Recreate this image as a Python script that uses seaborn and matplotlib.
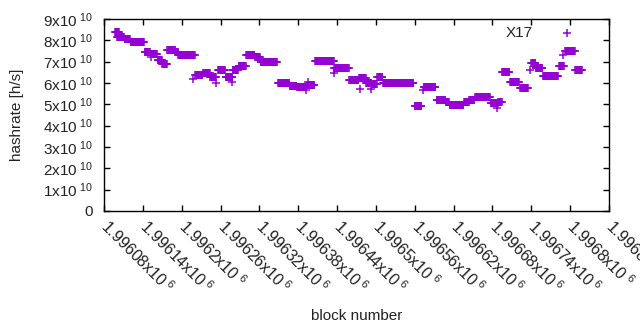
import numpy as np
import pandas as pd
import matplotlib
matplotlib.use("Agg")
import matplotlib.pyplot as plt
import seaborn as sns

# ---- data (runs of consecutive blocks with constant hashrate) ----
run_first_block = [1996097, 1996100, 1996112, 1996121, 1996143, 1996152, 1996163, 1996170, 1996178, 1996191,
                   1996195, 1996221, 1996233, 1996244, 1996256, 1996268, 1996279, 1996288, 1996300, 1996313,
                   1996322, 1996349, 1996367, 1996378, 1996394, 1996406, 1996436, 1996459, 1996474, 1996485,
                   1996494, 1996502, 1996511, 1996560, 1996574, 1996594, 1996608, 1996614, 1996636, 1996644,
                   1996653, 1996677, 1996689, 1996695, 1996707, 1996723, 1996740, 1996747, 1996758, 1996783,
                   1996792, 1996808]
run_last_block = [1996103, 1996111, 1996120, 1996142, 1996151, 1996162, 1996169, 1996177, 1996190, 1996194,
                  1996220, 1996232, 1996243, 1996253, 1996267, 1996278, 1996287, 1996299, 1996312, 1996321,
                  1996347, 1996366, 1996377, 1996392, 1996405, 1996435, 1996458, 1996473, 1996484, 1996493,
                  1996501, 1996510, 1996558, 1996570, 1996592, 1996607, 1996613, 1996635, 1996643, 1996652,
                  1996676, 1996688, 1996694, 1996706, 1996721, 1996735, 1996746, 1996757, 1996781, 1996790,
                  1996807, 1996818]
run_hashrate_e10 = [8.39, 8.15, 8.05, 7.92, 7.45, 7.38, 7.08, 6.89, 7.57, 7.45,
                    7.31, 6.36, 6.48, 6.30, 6.60, 6.30, 6.60, 6.80, 7.29, 7.20,
                    6.97, 6.00, 5.88, 5.79, 5.90, 7.01, 6.68, 6.13, 6.22, 6.00,
                    5.93, 6.28, 5.98, 4.92, 5.79, 5.18, 5.10, 4.95, 5.10, 5.20,
                    5.34, 5.06, 5.10, 6.52, 6.07, 5.77, 6.94, 6.70, 6.33, 6.82,
                    7.52, 6.59]

# isolated points
single_block = [1996153, 1996217, 1996253, 1996278, 1996392, 1996395, 1996435,
                1996475, 1996492, 1996572, 1996687, 1996738, 1996789]
single_hashrate_e10 = [7.20, 6.19, 6.00, 6.05, 5.67, 6.07, 6.47,
                       5.71, 5.74, 5.65, 4.83, 6.61, 7.31]

x_ticks = [1996080, 1996140, 1996200, 1996260, 1996320, 1996380, 1996440,
           1996500, 1996560, 1996620, 1996680, 1996740, 1996800, 1996860]
x_tick_mantissa = ["1.99608", "1.99614", "1.9962", "1.99626", "1.99632", "1.99638", "1.99644",
                   "1.9965", "1.99656", "1.99662", "1.99668", "1.99674", "1.9968", "1.99686"]
y_ticks_e10 = [0, 1, 2, 3, 4, 5, 6, 7, 8, 9]
series_name = "X17"

# ---- build table ----
blocks, rates = [], []
for a, b, v in zip(run_first_block, run_last_block, run_hashrate_e10):
    for blk in range(a, b + 1):
        blocks.append(blk)
        rates.append(v * 1e10)
for blk, v in zip(single_block, single_hashrate_e10):
    blocks.append(blk)
    rates.append(v * 1e10)
df = pd.DataFrame({"block": blocks, "hashrate": rates})

# ---- style ----
sns.set_theme(style="white")
plt.rcParams["font.family"] = ["Liberation Sans", "DejaVu Sans"]
plt.rcParams["mathtext.fontset"] = "custom"
plt.rcParams["mathtext.rm"] = "Liberation Sans"
plt.rcParams["mathtext.it"] = "Liberation Sans"
plt.rcParams["mathtext.default"] = "regular"

FS = 11
TXT = "#222222"

fig = plt.figure(figsize=(6.4, 3.3), dpi=100)
ax = fig.add_axes([104 / 640, 1 - 211 / 330, 505 / 640, 192 / 330])

sns.scatterplot(data=df, x="block", y="hashrate", ax=ax, marker="+", s=36,
                color="#9400D3", linewidth=1.1, label=series_name)

ax.set_xlim(x_ticks[0], x_ticks[-1])
ax.set_ylim(0, 9e10)

ax.set_yticks([v * 1e10 for v in y_ticks_e10])
ax.set_yticklabels(["0" if v == 0 else rf"{v}x10$^{{\ 10}}$" for v in y_ticks_e10], fontsize=FS)

ax.set_xticks(x_ticks)
ax.set_xticklabels([rf"{m}x10$^{{\ 6}}$" for m in x_tick_mantissa], fontsize=11.5,
                   rotation=-45, ha="left", va="center", rotation_mode="anchor")

ax.tick_params(axis="both", direction="in", length=4, width=1, colors="black",
               top=True, right=True, bottom=True, left=True, labelcolor=TXT)
ax.tick_params(axis="x", pad=8.5)
ax.tick_params(axis="y", pad=8)

for sp in ax.spines.values():
    sp.set_visible(True)
    sp.set_color("black")
    sp.set_linewidth(1.0)

ax.set_xlabel("block number", fontsize=FS, color=TXT)
ax.set_ylabel("hashrate [h/s]", fontsize=FS, color=TXT)
ax.xaxis.set_label_coords(0.5, -0.51)
ax.yaxis.set_label_coords(-0.158, 0.5)

leg = ax.legend(loc="upper right", bbox_to_anchor=(0.970, 0.965), frameon=False, markerfirst=False,
                fontsize=FS, handlelength=3.5, handletextpad=0.5, borderaxespad=0, borderpad=0,
                labelcolor=TXT)

fig.savefig("out.png", dpi=100)
